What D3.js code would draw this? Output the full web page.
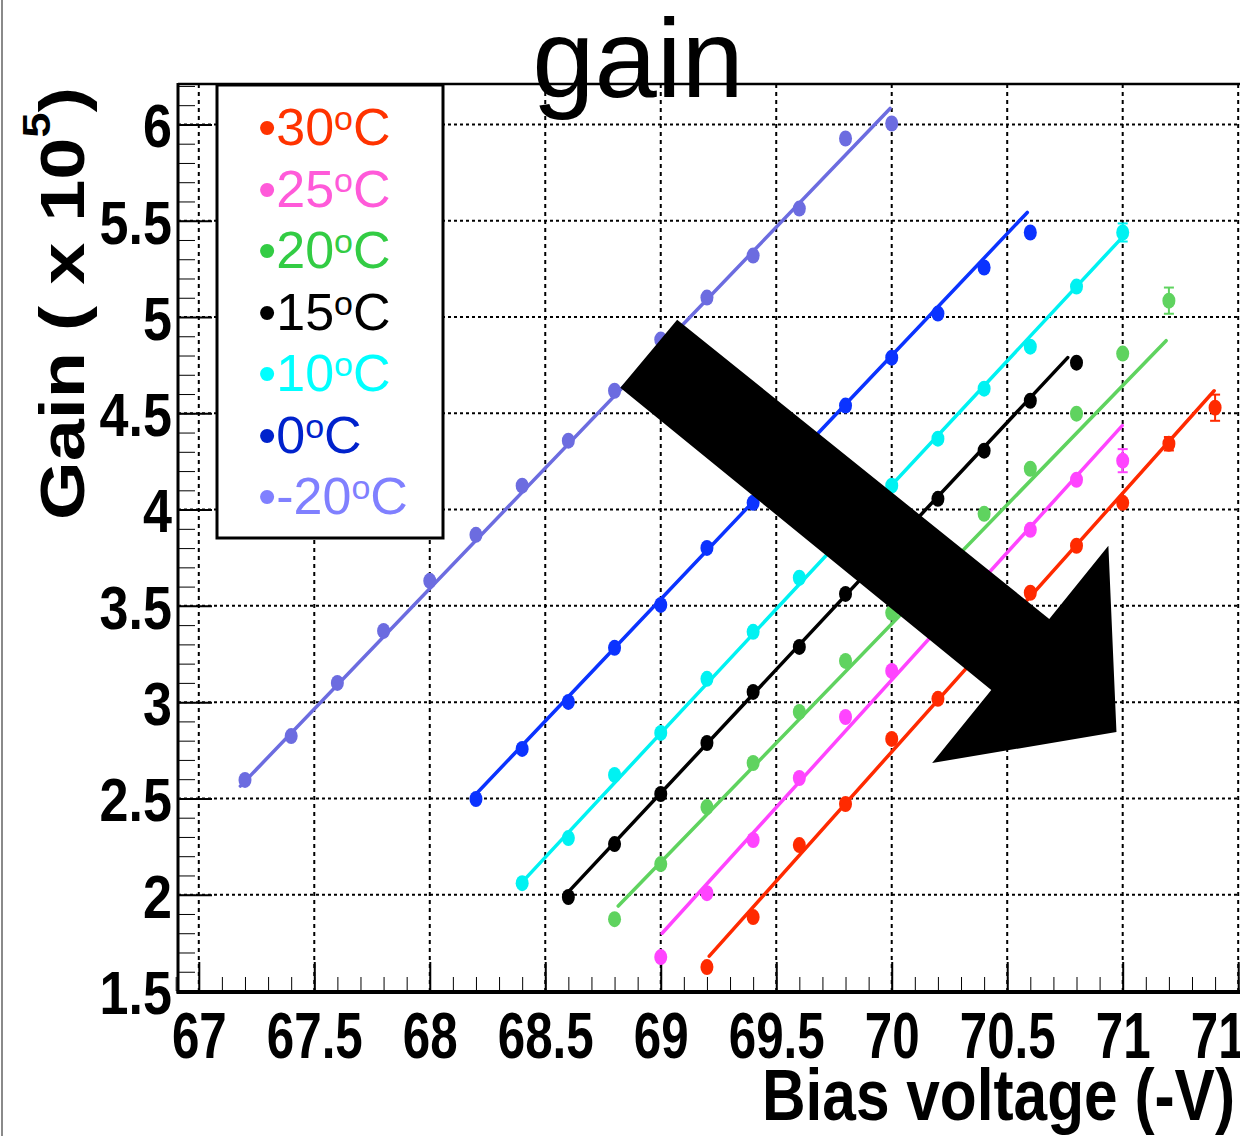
<!DOCTYPE html>
<html lang="en">
  <head>
    <meta charset="UTF-8" />
    <title>gain</title>
    <style>
      body { margin: 0; background: #fff; }
      svg { display: block; font-family: "Liberation Sans", Arial, sans-serif; }
    </style>
  </head>
  <body>
    <svg id="chart"></svg>
    <script src="https://d3js.org/d3.v7.min.js"></script>
    <script>
      // series (temperature in degC) -> bias voltage (-V) and gain (x 1e5)
      const temps = ["30", "25", "20", "15", "10", "0", "-20"];
      const lineColors = ["#ff2a00", "#ff44ff", "#5fd35f", "#000000", "#00f2f2", "#0b33ff", "#6c6ce0"];
      const legendColors = ["#ff3300", "#ff5ad9", "#33cc44", "#000000", "#00ffff", "#0022cc", "#8080ff"];

      const volt30 = [69.2, 69.4, 69.6, 69.8, 70.0, 70.2, 70.6, 70.8, 71.0, 71.2, 71.4];
      const gain30 = [1.624, 1.884, 2.258, 2.471, 2.809, 3.017, 3.568, 3.812, 4.035, 4.342, 4.529];
      const volt25 = [69.0, 69.2, 69.4, 69.6, 69.8, 70.0, 70.6, 70.8, 71.0];
      const gain25 = [1.676, 2.008, 2.284, 2.606, 2.923, 3.162, 3.895, 4.155, 4.254];
      const volt20 = [68.8, 69.0, 69.2, 69.4, 69.6, 69.8, 70.0, 70.4, 70.6, 70.8, 71.0, 71.2];
      const gain20 = [1.873, 2.159, 2.455, 2.684, 2.949, 3.214, 3.464, 3.978, 4.212, 4.498, 4.810, 5.085];
      const volt15 = [68.6, 68.8, 69.0, 69.2, 69.4, 69.6, 69.8, 70.2, 70.4, 70.6, 70.8];
      const gain15 = [1.988, 2.263, 2.523, 2.788, 3.053, 3.287, 3.562, 4.056, 4.306, 4.565, 4.763];
      const volt10 = [68.4, 68.6, 68.8, 69.0, 69.2, 69.4, 69.6, 70.0, 70.2, 70.4, 70.6, 70.8, 71.0];
      const gain10 = [2.060, 2.294, 2.622, 2.840, 3.121, 3.365, 3.646, 4.124, 4.368, 4.628, 4.846, 5.158, 5.439];
      const volt0 = [68.2, 68.4, 68.6, 68.8, 69.0, 69.2, 69.4, 69.8, 70.0, 70.2, 70.4, 70.6];
      const gain0 = [2.497, 2.757, 3.001, 3.282, 3.505, 3.801, 4.035, 4.540, 4.789, 5.018, 5.257, 5.439];
      const voltM20 = [67.2, 67.4, 67.6, 67.8, 68.0, 68.2, 68.4, 68.6, 68.8, 69.0, 69.2, 69.4, 69.6, 69.8, 70.0];
      const gainM20 = [2.596, 2.824, 3.100, 3.370, 3.630, 3.869, 4.124, 4.358, 4.617, 4.883, 5.101, 5.319, 5.563, 5.927, 6.005];

      // straight-line fits: [v start, gain start, v end, gain end]
      const fits = [
        [69.21, 1.681, 71.396, 4.617],
        [69.006, 1.800, 70.998, 4.436],
        [68.816, 1.941, 71.188, 4.877],
        [68.591, 2.003, 70.762, 4.789],
        [68.388, 2.050, 70.989, 5.402],
        [68.184, 2.502, 70.587, 5.543],
        [67.18, 2.564, 69.993, 6.083]
      ];

      // visible error bars: [series index, voltage, half-width]
      const errorBars = [[0, 71.4, 0.068], [0, 71.2, 0.035], [1, 71.0, 0.06], [2, 71.2, 0.068], [4, 71.0, 0.047]];

      const xMajor = [67, 67.5, 68, 68.5, 69, 69.5, 70, 70.5, 71, 71.5];
      const yMajor = [1.5, 2, 2.5, 3, 3.5, 4, 4.5, 5, 5.5, 6];

      // arrow outline in (voltage, gain)
      const arrowV = [69.071, 70.682, 70.938, 70.973, 70.175, 70.431, 68.825];
      const arrowG = [4.986, 3.432, 3.812, 2.845, 2.684, 3.063, 4.633];

      const volts = [volt30, volt25, volt20, volt15, volt10, volt0, voltM20];
      const gains = [gain30, gain25, gain20, gain15, gain10, gain0, gainM20];

      const W = 1240, H = 1136;
      const padL = 178, padT = 84, padB = 991, padR = 1240.5;

      const svg = d3.select("#chart").attr("width", W).attr("height", H);
      svg.append("rect").attr("width", W).attr("height", H).attr("fill", "#fff");
      svg.append("rect").attr("x", 1).attr("y", 0).attr("width", 2).attr("height", H).attr("fill", "#8a8a8a");

      const x = d3.scaleLinear().domain([66.91, 71.51]).range([padL, padR]);
      const y = d3.scaleLinear().domain([1.5, 6.21]).range([padB, padT]);

      // grid
      svg.append("g").selectAll("line").data(yMajor).join("line")
        .attr("x1", padL).attr("x2", W)
        .attr("y1", d => y(d)).attr("y2", d => y(d))
        .attr("stroke", "#000").attr("stroke-width", 2).attr("stroke-dasharray", "3,3");
      svg.append("g").selectAll("line").data(xMajor).join("line")
        .attr("x1", d => x(d)).attr("x2", d => x(d))
        .attr("y1", padT).attr("y2", padB)
        .attr("stroke", "#000").attr("stroke-width", 2).attr("stroke-dasharray", "4,4");

      // axes
      const xMinor = d3.range(669, 716).map(d => d / 10);
      const yMinor = d3.range(15, 63).map(d => d / 10);

      svg.append("g").attr("transform", `translate(0,${padB})`)
        .call(d3.axisBottom(x).tickValues(xMinor).tickSizeInner(-14).tickSizeOuter(0).tickFormat(""))
        .call(g => g.select(".domain").remove());
      const gx = svg.append("g").attr("transform", `translate(0,${padB})`)
        .call(d3.axisBottom(x).tickValues(xMajor).tickSizeInner(-29).tickSizeOuter(0).tickPadding(22).tickFormat(d3.format("")))
        .call(g => g.select(".domain").remove());
      gx.selectAll("line").attr("stroke-width", 2);
      gx.selectAll("text")
        .attr("font-size", 64).attr("font-weight", "bold").attr("fill", "#000")
        .attr("font-family", "Liberation Sans, Arial, sans-serif")
        .attr("transform", "scale(0.77,1)");

      svg.append("g").attr("transform", `translate(${padL},0)`)
        .call(d3.axisLeft(y).tickValues(yMinor).tickSizeInner(-17).tickSizeOuter(0).tickFormat(""))
        .call(g => g.select(".domain").remove());
      const gy = svg.append("g").attr("transform", `translate(${padL},0)`)
        .call(d3.axisLeft(y).tickValues(yMajor).tickSizeInner(-34).tickSizeOuter(0).tickPadding(6).tickFormat(d3.format("")))
        .call(g => g.select(".domain").remove());
      gy.selectAll("line").attr("stroke-width", 2);
      gy.selectAll("text")
        .attr("font-size", 62).attr("font-weight", "bold").attr("fill", "#000")
        .attr("font-family", "Liberation Sans, Arial, sans-serif")
        .attr("x", -6 / 0.84).attr("dy", "0.36em")
        .attr("transform", "scale(0.84,1)");

      svg.selectAll(".tick line").attr("stroke", "#000");

      // frame
      svg.append("line").attr("x1", padL).attr("x2", W).attr("y1", padT).attr("y2", padT)
        .attr("stroke", "#000").attr("stroke-width", 2.5);
      svg.append("line").attr("x1", padL).attr("x2", padL).attr("y1", padT - 1).attr("y2", padB + 2)
        .attr("stroke", "#000").attr("stroke-width", 3);
      svg.append("line").attr("x1", padL - 1.5).attr("x2", W).attr("y1", padB + 1).attr("y2", padB + 1)
        .attr("stroke", "#000").attr("stroke-width", 4);

      // fit lines
      svg.append("g").selectAll("line").data(fits).join("line")
        .attr("x1", d => x(d[0])).attr("y1", d => y(d[1]))
        .attr("x2", d => x(d[2])).attr("y2", d => y(d[3]))
        .attr("stroke", (d, i) => lineColors[i]).attr("stroke-width", 3.5).attr("stroke-linecap", "round");

      // error bars
      const eb = svg.append("g");
      errorBars.forEach(([s, v, e]) => {
        const gv = gains[s][volts[s].indexOf(v)];
        const c = lineColors[s];
        eb.append("line").attr("x1", x(v)).attr("x2", x(v)).attr("y1", y(gv - e)).attr("y2", y(gv + e))
          .attr("stroke", c).attr("stroke-width", 2);
        [gv - e, gv + e].forEach(t => {
          eb.append("line").attr("x1", x(v) - 5).attr("x2", x(v) + 5).attr("y1", y(t)).attr("y2", y(t))
            .attr("stroke", c).attr("stroke-width", 2);
        });
      });

      // markers
      temps.forEach((t, i) => {
        svg.append("g").selectAll("ellipse").data(d3.zip(volts[i], gains[i])).join("ellipse")
          .attr("cx", d => x(d[0])).attr("cy", d => y(d[1]))
          .attr("rx", 6.5).attr("ry", 8)
          .attr("fill", lineColors[i]);
      });

      // legend
      const leg = svg.append("g");
      leg.append("rect").attr("x", 217).attr("y", 85).attr("width", 226).attr("height", 453)
        .attr("fill", "#fff").attr("stroke", "#000").attr("stroke-width", 3);
      temps.forEach((t, i) => {
        const txt = leg.append("text").attr("x", 258).attr("y", 145 + i * 61.5)
          .attr("font-size", 52).attr("fill", legendColors[i]);
        txt.append("tspan").text("\u2022" + t);
        txt.append("tspan").attr("font-size", 34).attr("dy", -15).text("o");
        txt.append("tspan").attr("font-size", 52).attr("dy", 15).text("C");
      });

      // arrow annotation
      svg.append("polygon")
        .attr("points", d3.zip(arrowV, arrowG).map(d => [x(d[0]), y(d[1])].join(",")).join(" "))
        .attr("fill", "#000");

      // titles
      svg.append("text").attr("x", 638).attr("y", 97).attr("text-anchor", "middle")
        .attr("font-size", 112).attr("fill", "#000").text("gain");

      svg.append("text").attr("x", 762).attr("y", 1120)
        .attr("font-size", 72).attr("font-weight", "bold")
        .attr("textLength", 473).attr("lengthAdjust", "spacingAndGlyphs")
        .text("Bias voltage (-V)");

      const yt = svg.append("text").attr("transform", "translate(84,520) rotate(-90) scale(1.2,1)")
        .attr("font-size", 63).attr("font-weight", "bold");
      yt.append("tspan").text("Gain ( x 10");
      yt.append("tspan").attr("font-size", 38).attr("dy", -34).text("5");
      yt.append("tspan").attr("font-size", 63).attr("dy", 34).text(")");
    </script>
  </body>
</html>
